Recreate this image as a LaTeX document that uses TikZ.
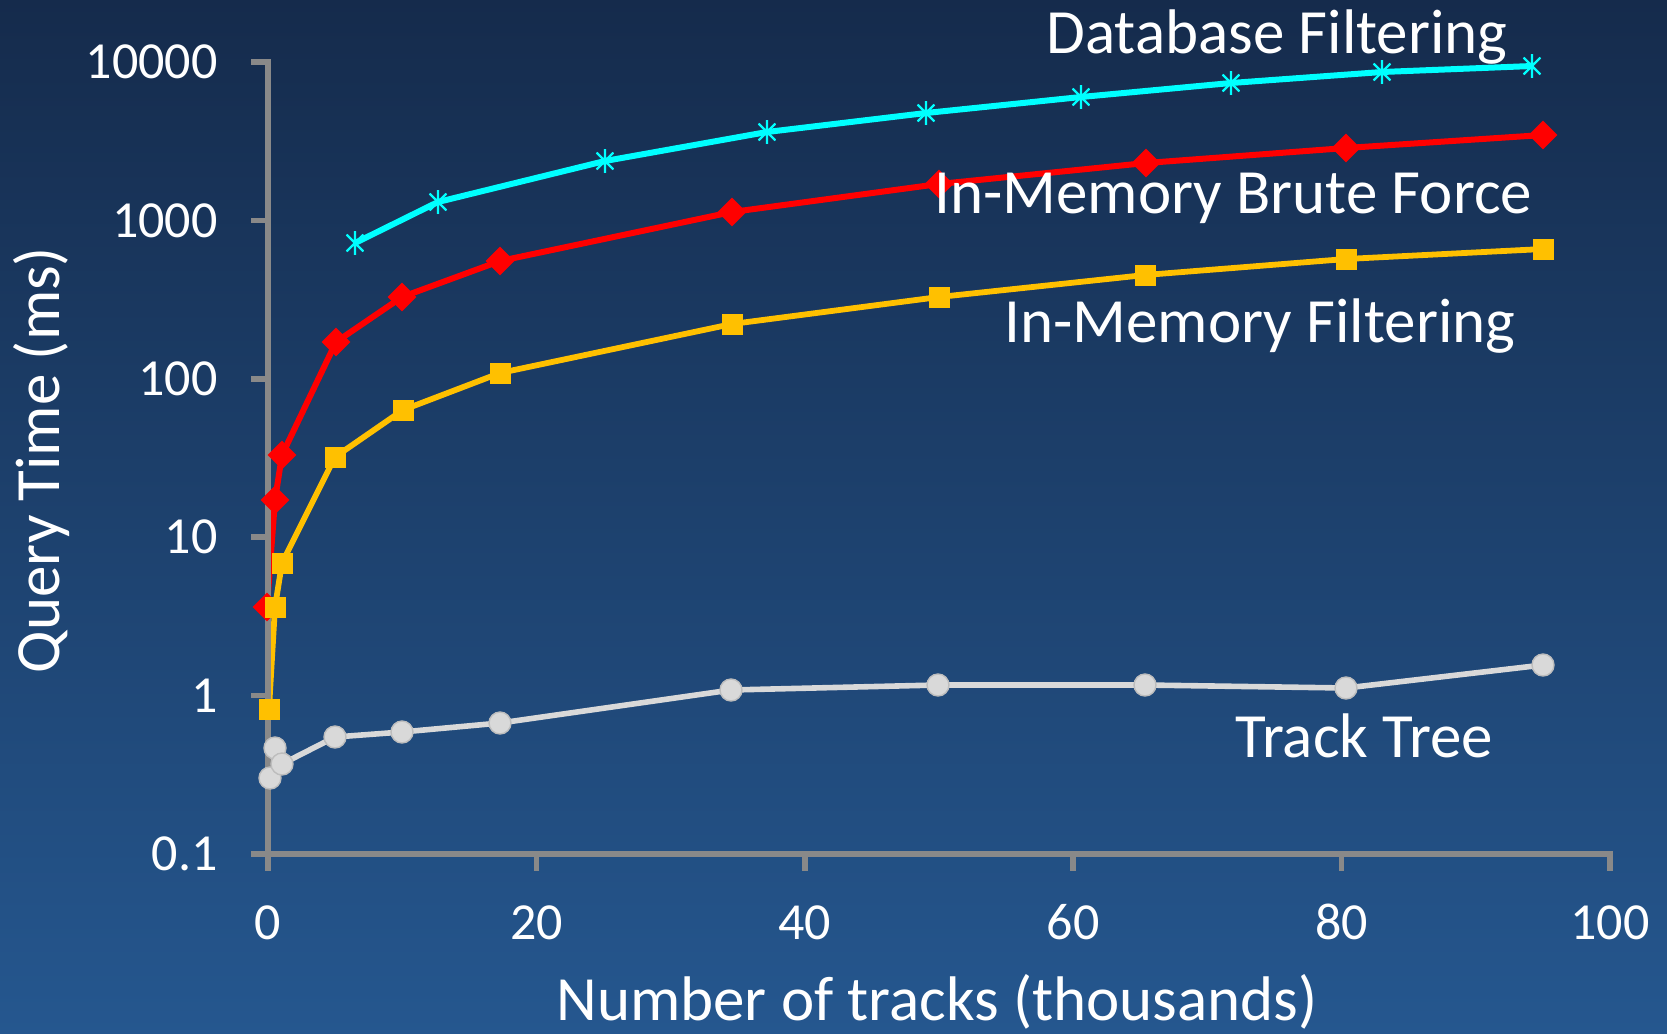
\documentclass[tikz,border=0pt]{standalone}
\usepackage{fontspec}
\setmainfont{Carlito}
\usetikzlibrary{shapes.geometric}

\definecolor{bgtop}{HTML}{152B4C}
\definecolor{bgbot}{HTML}{25578F}
\definecolor{axisgray}{HTML}{898989}
\definecolor{dbcyan}{HTML}{00FFFF}
\definecolor{bfred}{HTML}{FF0000}
\definecolor{mfgold}{HTML}{FFC000}
\definecolor{ttfill}{HTML}{D9D9D9}
\definecolor{ttedge}{HTML}{BDBDBD}

\pgfdeclarelayer{bg}
\pgfdeclarelayer{curves}
\pgfsetlayers{bg,curves,main}

\begin{document}
\begin{tikzpicture}[x=0.5pt,y=-0.5pt,
  axisline/.style={draw=axisgray, line width=2.8pt},
  bigtext/.style={text=white, font=\fontsize{31.5}{38}\selectfont, inner sep=0pt},
  ticktext/.style={text=white, font=\fontsize{26}{31}\selectfont, inner sep=0pt},
  dbmark/.style={circle, inner sep=0pt, minimum size=12pt,
    path picture={\draw[dbcyan, line width=1.2pt]
      (path picture bounding box.north) -- (path picture bounding box.south)
      (path picture bounding box.north east) -- (path picture bounding box.south west)
      (path picture bounding box.north west) -- (path picture bounding box.south east);}},
  bfmark/.style={diamond, fill=bfred, inner sep=0pt, minimum size=14.5pt},
  mfmark/.style={rectangle, fill=mfgold, inner sep=0pt, minimum size=10.5pt},
  ttmark/.style={circle, fill=ttfill, draw=ttedge, line width=0.7pt, inner sep=0pt, minimum size=11pt},
  dbline/.style={draw=dbcyan, line width=3pt, line join=round},
  bfline/.style={draw=bfred, line width=3pt, line join=round},
  mfline/.style={draw=mfgold, line width=2.9pt, line join=round},
  ttline/.style={draw=ttfill, line width=2.8pt, line join=round},
]
\useasboundingbox (0,0) rectangle (1667,1034);
\begin{pgfonlayer}{bg}
  \shade[top color=bgtop, bottom color=bgbot] (0,0) rectangle (1667,1034);
\end{pgfonlayer}

% axes with their tick marks
\draw[axisline] (251,62) -- (268,62) -- (268,871);
\draw[axisline] (251,854) -- (1610,854) -- (1610,871);
\foreach \i in {1,...,4}
  \draw[axisline] (251,{854-158.4*\i}) -- (268,{854-158.4*\i});
\foreach \i in {1,...,4}
  \draw[axisline] ({268+268.4*\i},854) -- ({268+268.4*\i},871);

% tick labels
\foreach \lab [count=\i from 0] in {0.1,1,10,100,1000,10000}
  \node[ticktext, anchor=east] (ytick\i) at (218,{854-158.4*\i}) {\lab};
\foreach \lab [count=\i from 0] in {0,20,40,60,80,100}
  \node[ticktext, anchor=base] (xtick\i) at ({268+268.4*\i},939) {\lab};

% axis titles
\node[bigtext, rotate=90, anchor=base] (ytitle) at (59,460) {Query Time (ms)};
\node[bigtext, anchor=base] (xtitle) at (937,1020) {Number of tracks (thousands)};

% Database Filtering
\foreach \px/\py [count=\i] in {355/243, 438/202, 605/161, 767/132, 926/113, 1081/97, 1231/83, 1382/72, 1532/66}
  \node[dbmark] (db\i) at (\px,\py) {};
% In-Memory Brute Force
\foreach \px/\py [count=\i] in {267/607, 275/500, 282/455, 336/342, 402/297, 500/261, 732/212, 939/184, 1146/163, 1346/148, 1543/135}
  \node[bfmark] (bf\i) at (\px,\py) {};
% In-Memory Filtering
\foreach \px/\py [count=\i] in {269/709, 275/607, 282/563, 335/457, 403/410, 500/373, 732/324, 939/297, 1145/275, 1346/259, 1543/249}
  \node[mfmark] (mf\i) at (\px,\py) {};
% Track Tree
\foreach \px/\py [count=\i] in {270/778, 275/748, 282/764, 335/737, 402/732, 500/723, 731/690, 938/685, 1145/685, 1346/688, 1543/665}
  \node[ttmark] (tt\i) at (\px,\py) {};

\begin{pgfonlayer}{curves}
  \draw[dbline] (db1.center) \foreach \i in {2,...,9} { -- (db\i.center) };
  \draw[bfline] (bf1.center) \foreach \i in {2,...,11} { -- (bf\i.center) };
  \draw[mfline] (mf1.center) \foreach \i in {2,...,11} { -- (mf\i.center) };
  \draw[ttline] (tt1.center) \foreach \i in {2,...,11} { -- (tt\i.center) };
\end{pgfonlayer}

% series labels
\node[bigtext, anchor=base west] (lab-db) at (1046,53) {Database Filtering};
\node[bigtext, anchor=base west] (lab-bf) at (934,213) {In-Memory Brute Force};
\node[bigtext, anchor=base west] (lab-mf) at (1004,342) {In-Memory Filtering};
\node[bigtext, anchor=base west] (lab-tt) at (1235,757) {Track Tree};
\end{tikzpicture}
\end{document}
